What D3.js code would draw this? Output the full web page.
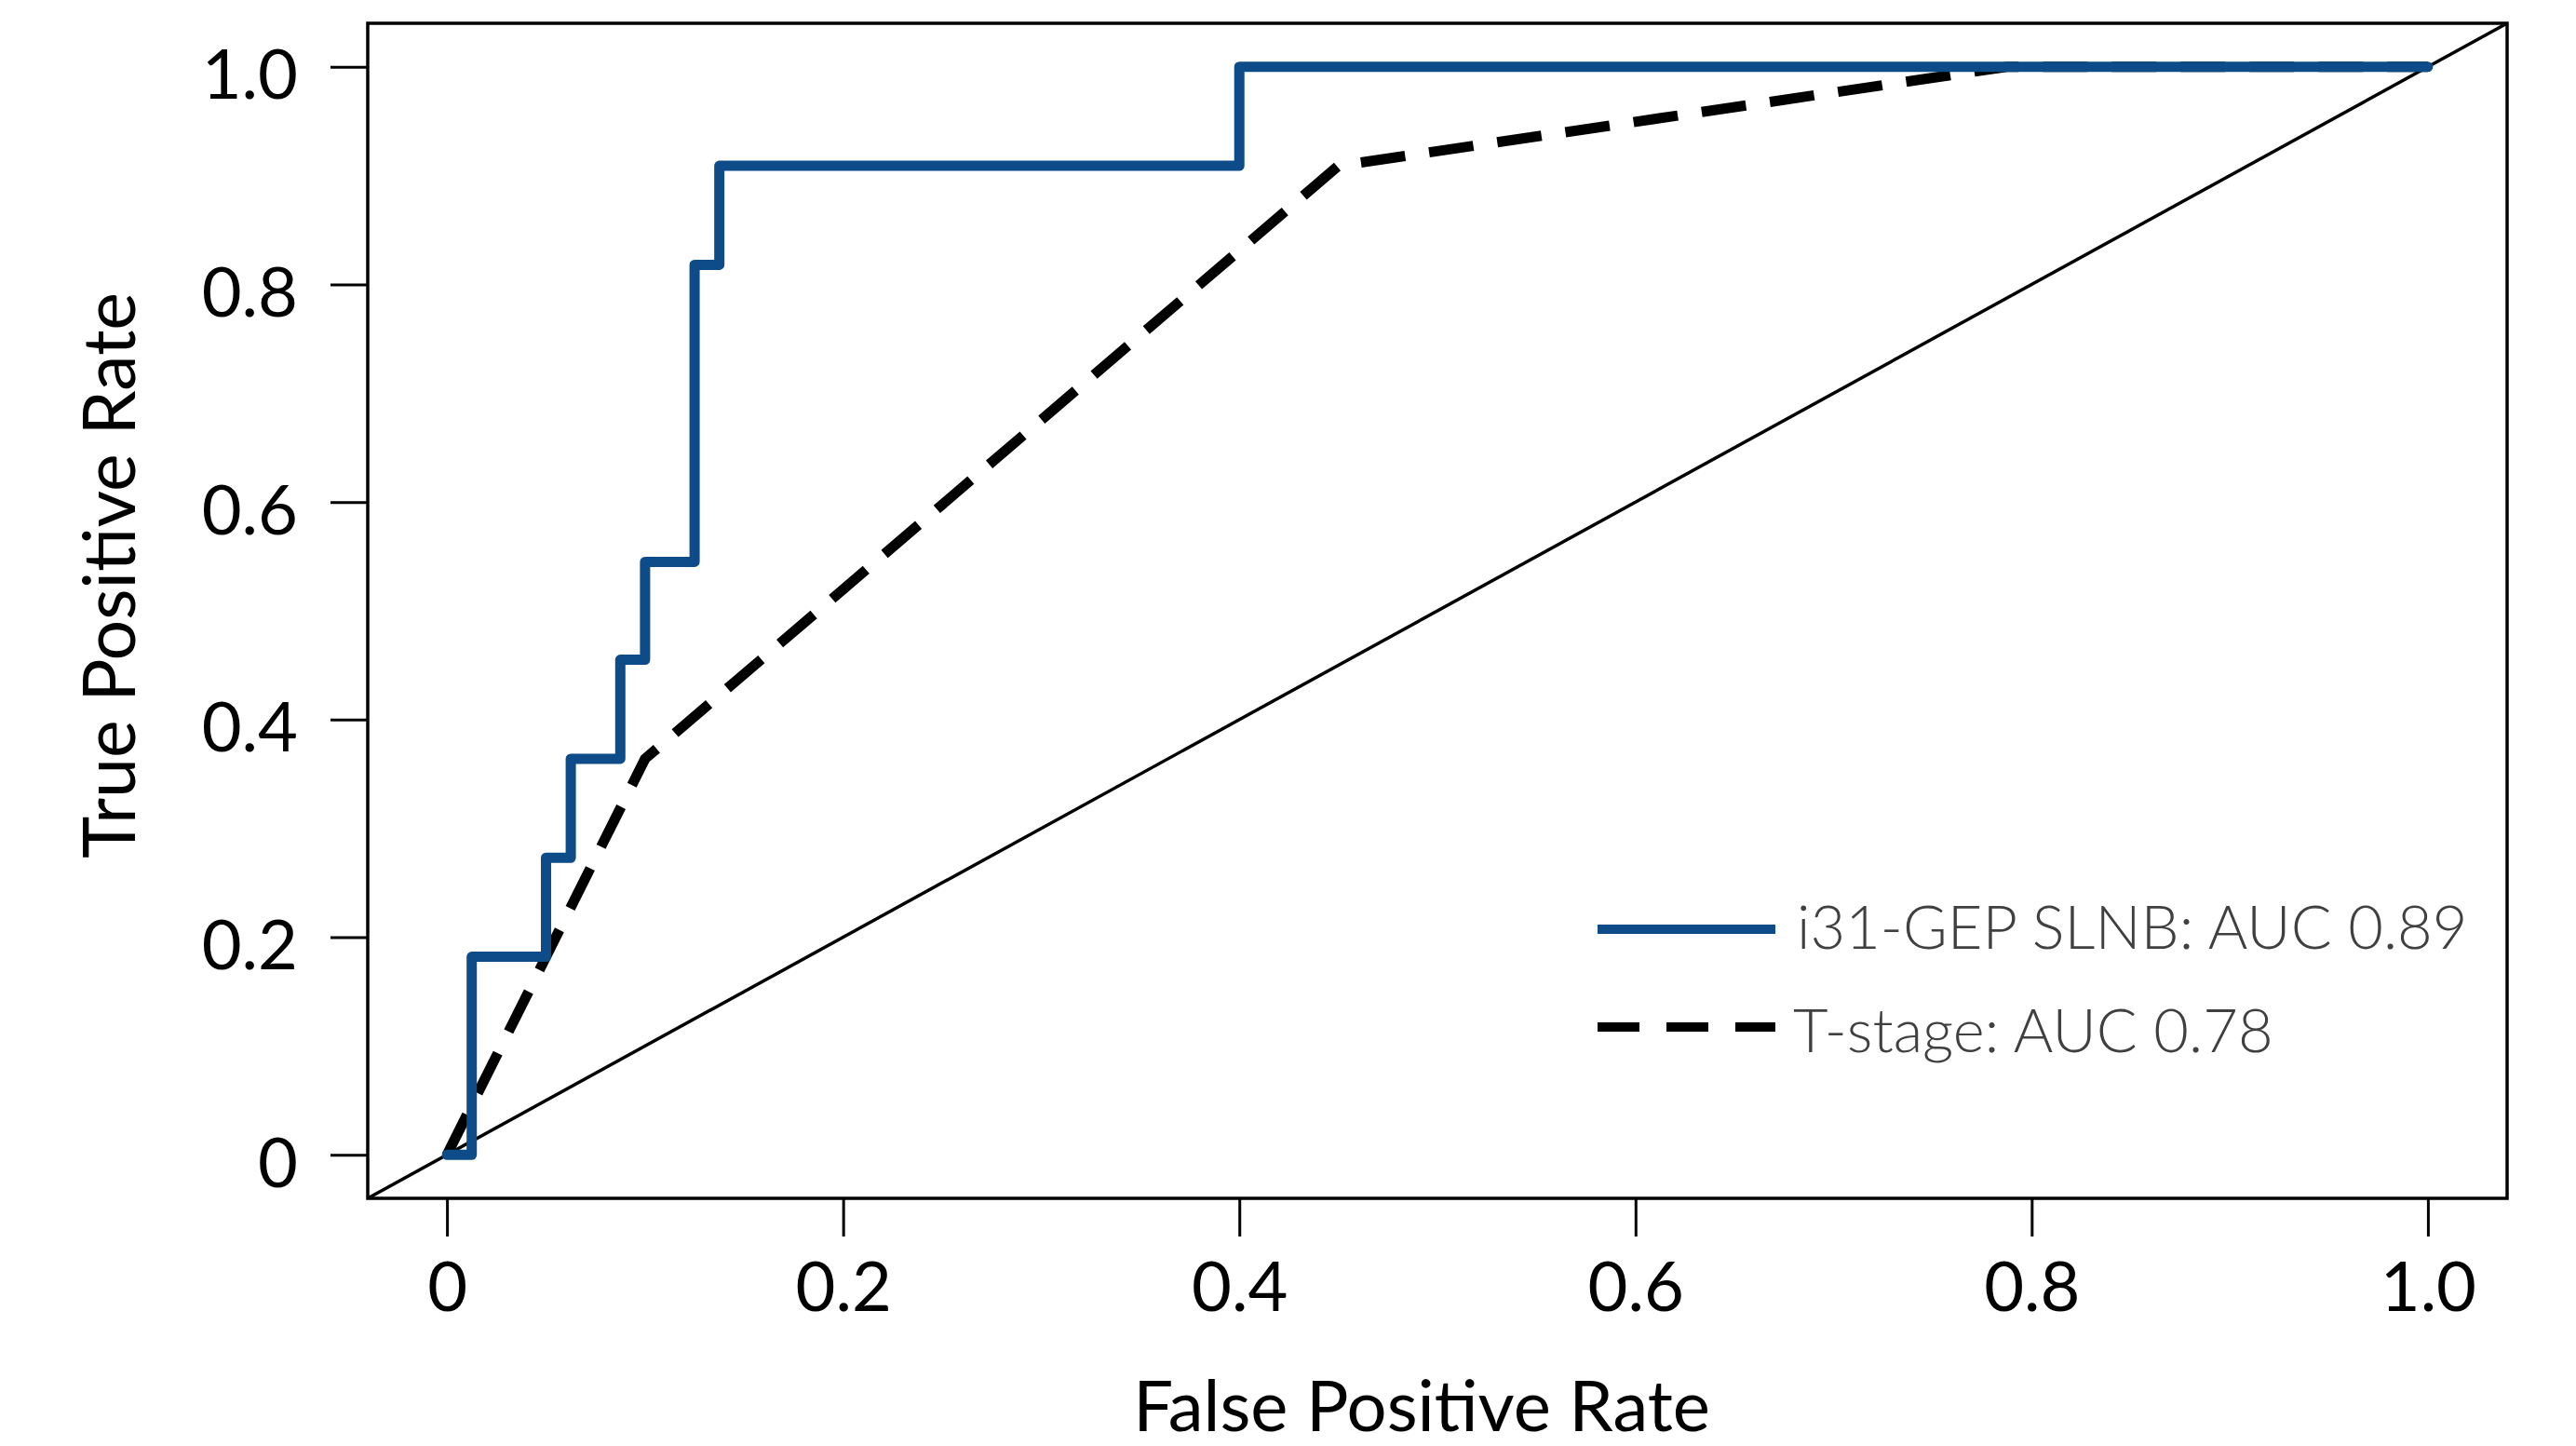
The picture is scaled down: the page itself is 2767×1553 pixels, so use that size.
<!DOCTYPE html>
<html>
<head>
<meta charset="utf-8">
<script src="https://cdn.jsdelivr.net/npm/d3@7"></script>
<style>
  body { margin: 0; background: #fff; }
  svg { display: block; }
  text { font-family: Lato, 'Open Sans', sans-serif; }
</style>
</head>
<body>
<script>
(function () {
  'use strict'

  // ROC points
  var gepFpr = [0, 0.0125, 0.05, 0.0625, 0.0875, 0.1, 0.125, 0.1375, 0.4, 1.0]
  var gepTpr = [0, 0.182, 0.273, 0.364, 0.455, 0.545, 0.818, 0.909, 1.0, 1.0]
  var tstageFpr = [0, 0.1, 0.45, 0.7875, 1.0]
  var tstageTpr = [0, 0.364, 0.909, 1.0, 1.0]

  var tickValues = [0, 0.2, 0.4, 0.6, 0.8, 1.0]
  var seriesNames = ['i31-GEP SLNB: AUC 0.89', 'T-stage: AUC 0.78']
  var xTitle = 'False Positive Rate'
  var yTitle = 'True Positive Rate'

  var dim = { w: 2767, h: 1553 }
  var box = { left: 395, top: 25, right: 2693, bottom: 1287 }
  var blue = '#0d4c89'
  var dash = '48,26'

  var svg = d3.select('body').append('svg')
    .attr('width', dim.w)
    .attr('height', dim.h)

  var x = d3.scaleLinear().domain([-0.04, 1.04]).range([box.left, box.right])
  var y = d3.scaleLinear().domain([-0.04, 1.04]).range([box.bottom, box.top])

  var fmt = function (d) { return d === 0 ? '0' : d3.format('.1f')(d) }

  // axes
  var xAxis = svg.append('g')
    .attr('transform', 'translate(0,' + box.bottom + ')')
    .call(d3.axisBottom(x).tickValues(tickValues).tickFormat(fmt).tickSize(41))
  xAxis.select('.domain').remove()
  xAxis.selectAll('line').attr('stroke', '#000').attr('stroke-width', 3)
  xAxis.selectAll('text')
    .attr('y', 121).attr('dy', null)
    .attr('font-size', 74).attr('fill', '#000')
    .style('font-family', 'Lato, sans-serif')

  var yAxis = svg.append('g')
    .attr('transform', 'translate(' + box.left + ',0)')
    .call(d3.axisLeft(y).tickValues(tickValues).tickFormat(fmt).tickSize(40).tickPadding(35))
  yAxis.select('.domain').remove()
  yAxis.selectAll('line').attr('stroke', '#000').attr('stroke-width', 3)
  yAxis.selectAll('text')
    .attr('dy', 34)
    .attr('font-size', 74).attr('fill', '#000')
    .style('font-family', 'Lato, sans-serif')

  // titles
  svg.append('text')
    .attr('x', 1527).attr('y', 1537)
    .attr('text-anchor', 'middle')
    .attr('font-size', 76)
    .text(xTitle)

  svg.append('text')
    .attr('transform', 'translate(145,618) rotate(-90)')
    .attr('text-anchor', 'middle')
    .attr('font-size', 77)
    .text(yTitle)

  // chance diagonal
  svg.append('line')
    .attr('x1', x(-0.04)).attr('y1', y(-0.04))
    .attr('x2', x(1.04)).attr('y2', y(1.04))
    .attr('stroke', '#000').attr('stroke-width', 3.5)

  // curves
  var tstage = tstageFpr.map(function (f, i) { return [f, tstageTpr[i]] })
  var gep = gepFpr.map(function (f, i) { return [f, gepTpr[i]] })

  var line = d3.line()
    .x(function (d) { return x(d[0]) })
    .y(function (d) { return y(d[1]) })

  svg.append('path')
    .datum(tstage)
    .attr('d', line)
    .attr('fill', 'none')
    .attr('stroke', '#000')
    .attr('stroke-width', 11)
    .attr('stroke-dasharray', dash)

  svg.append('path')
    .datum(gep)
    .attr('d', line.curve(d3.curveStepAfter))
    .attr('fill', 'none')
    .attr('stroke', blue)
    .attr('stroke-width', 11)
    .attr('stroke-linejoin', 'round')
    .attr('stroke-linecap', 'round')

  // frame
  svg.append('rect')
    .attr('x', box.left).attr('y', box.top)
    .attr('width', box.right - box.left).attr('height', box.bottom - box.top)
    .attr('fill', 'none').attr('stroke', '#000').attr('stroke-width', 3.5)

  // legend
  var legend = svg.append('g')
  legend.append('line')
    .attr('x1', 1716).attr('x2', 1907).attr('y1', 998).attr('y2', 998)
    .attr('stroke', blue).attr('stroke-width', 10)
  legend.append('line')
    .attr('x1', 1716).attr('x2', 1907).attr('y1', 1103).attr('y2', 1103)
    .attr('stroke', '#000').attr('stroke-width', 10)
    .attr('stroke-dasharray', '45,29')
  legend.selectAll('text.lab')
    .data(seriesNames)
    .enter().append('text')
    .attr('class', 'lab')
    .attr('x', function (d, i) { return i === 0 ? 1930 : 1926 })
    .attr('y', function (d, i) { return i === 0 ? 1019 : 1130 })
    .attr('font-size', 65)
    .attr('font-weight', 300)
    .attr('fill', '#404040')
    .text(function (d) { return d })
}())
</script>
</body>
</html>
